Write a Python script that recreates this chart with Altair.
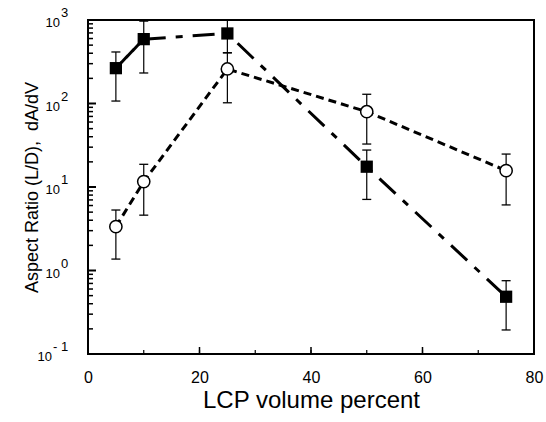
import altair as alt
import pandas as pd

# ---- data ----
lcp_pct = [5, 10, 25, 50, 75]

sq_val = [265, 590, 690, 17.5, 0.485]
sq_lo = [107, 232, 405, 7.1, 0.194]
sq_hi = [414, 970, 1000, 27.7, 0.755]

ci_val = [3.35, 11.6, 259, 79.8, 15.7]
ci_lo = [1.37, 4.6, 102, 32.7, 6.1]
ci_hi = [5.3, 18.7, 405, 129, 24.8]

x_tick_values = [0, 20, 40, 60, 80]
x_minor_ticks = [10, 20, 30, 40, 50, 60, 70]
x_major_inner = [20, 40, 60]
y_pos_decades = [1, 10, 100, 1000]
y_pos_exponents = ["0", "1", "2", "3"]
y_neg_decades = [0.1]
y_neg_exponents = ["- 1"]
y_tick_values = [0.1, 1, 10, 100, 1000]
y_minor_ticks = [m * d for d in [0.1, 1, 10, 100] for m in [2, 3, 4, 5, 6, 7, 8, 9]]

FONT = "Liberation Sans"

sq = pd.DataFrame({"x": lcp_pct, "y": sq_val, "lo": sq_lo, "hi": sq_hi})
ci = pd.DataFrame({"x": lcp_pct, "y": ci_val, "lo": ci_lo, "hi": ci_hi})

# square series: solid first segment, long-short dashes afterwards
sq_line = pd.concat([
    pd.DataFrame({"x": lcp_pct[0:2], "y": sq_val[0:2], "seg": "a"}),
    pd.DataFrame({"x": lcp_pct[1:], "y": sq_val[1:], "seg": "b"}),
])

xscale = alt.Scale(domain=[0, 80], nice=False, zero=False)
yscale = alt.Scale(type="log", domain=[0.1, 1000], nice=False)

xaxis = alt.Axis(
    values=x_tick_values, ticks=False, domain=False, grid=False,
    labelFont=FONT, labelFontSize=16, labelColor="black", labelPadding=15,
    labelFlush=False, labelOverlap=False,
    title="LCP volume percent", titleFont=FONT, titleFontSize=24,
    titleFontWeight="normal", titleColor="black",
    titleX=223, titleY=53, titleAlign="center", titleBaseline="alphabetic",
)
yaxis = alt.Axis(
    values=y_tick_values, labels=False, ticks=False, domain=False, grid=False,
    title="Aspect Ratio (L/D),\u00a0\u00a0dA/dV", titleFont=FONT, titleFontSize=18,
    titleFontWeight="normal", titleColor="black",
    titleX=-51, titleY=167, titleAlign="center", titleBaseline="alphabetic", titleAngle=270,
)

X = alt.X("x:Q", scale=xscale, axis=xaxis)
Y = alt.Y("y:Q", scale=yscale, axis=yaxis)
Ylo = alt.Y("lo:Q", scale=yscale, axis=yaxis)
Yhi = alt.Y("hi:Q", scale=yscale, axis=yaxis)


def errbars(df):
    bars = alt.Chart(df).mark_rule(color="black", strokeWidth=1.2).encode(
        x=X, y=Ylo, y2="hi:Q")
    cap_lo = alt.Chart(df).mark_tick(orient="horizontal", size=9, thickness=1.3,
                                     color="black", opacity=1).encode(x=X, y=Ylo)
    cap_hi = alt.Chart(df).mark_tick(orient="horizontal", size=9, thickness=1.3,
                                     color="black", opacity=1).encode(x=X, y=Yhi)
    return [bars, cap_lo, cap_hi]


sq_lines = alt.Chart(sq_line).mark_line(color="black", strokeWidth=3).encode(
    x=X, y=Y, detail="seg:N",
    strokeDash=alt.StrokeDash("seg:N", scale=alt.Scale(domain=["a", "b"],
                              range=[[1, 0], [22, 10, 7, 10]]), legend=None),
)
ci_lines = alt.Chart(ci).mark_line(color="black", strokeWidth=3, strokeDash=[8, 5]).encode(
    x=X, y=Y)

sq_pts = alt.Chart(sq).mark_point(shape="square", filled=True, size=150,
                                  color="black", opacity=1).encode(x=X, y=Y)
ci_pts = alt.Chart(ci).mark_point(shape="circle", filled=True, size=150, fill="white",
                                  stroke="black", strokeWidth=1.5, opacity=1).encode(x=X, y=Y)

# inward tick marks
ytick_major = alt.Chart(pd.DataFrame({"y": y_tick_values})).mark_rule(
    color="black", strokeWidth=2).encode(y=Y, x=alt.value(0), x2=alt.value(8))
ytick_minor = alt.Chart(pd.DataFrame({"y": y_minor_ticks})).mark_rule(
    color="black", strokeWidth=1.5).encode(y=Y, x=alt.value(0), x2=alt.value(5))
xtick_major = alt.Chart(pd.DataFrame({"x": x_major_inner})).mark_rule(
    color="black", strokeWidth=1.5).encode(x=X, y=alt.value(334), y2=alt.value(327))
xtick_minor = alt.Chart(pd.DataFrame({"x": x_minor_ticks})).mark_rule(
    color="black", strokeWidth=1.2).encode(x=X, y=alt.value(334), y2=alt.value(330))

# y tick labels "10" with raised exponents
pos_lab = pd.DataFrame({"y": y_pos_decades, "e": y_pos_exponents})
neg_lab = pd.DataFrame({"y": y_neg_decades, "e": y_neg_exponents})


def decade_labels(df, base_x):
    base = alt.Chart(df).mark_text(font=FONT, fontSize=13, color="black", align="right",
                                   baseline="middle", dy=3).encode(
        y=Y, x=alt.value(base_x), text=alt.value("10"))
    expo = alt.Chart(df).mark_text(font=FONT, fontSize=13, color="black", align="left",
                                   baseline="middle", dy=-7).encode(
        y=Y, x=alt.value(base_x + 1), text="e:N")
    return [base, expo]


chart = alt.layer(
    ytick_major, ytick_minor, xtick_major, xtick_minor,
    *decade_labels(pos_lab, -28), *decade_labels(neg_lab, -36),
    *errbars(sq), *errbars(ci),
    sq_lines, ci_lines, sq_pts, ci_pts,
).properties(
    width=446, height=334,
    autosize=alt.AutoSizeParams(type="none"),
    padding={"left": 88, "top": 20, "right": 12, "bottom": 68},
    background="white",
).configure_view(stroke="black", strokeWidth=2)

chart.save("out.html", embed_options={"renderer": "svg", "actions": False})
